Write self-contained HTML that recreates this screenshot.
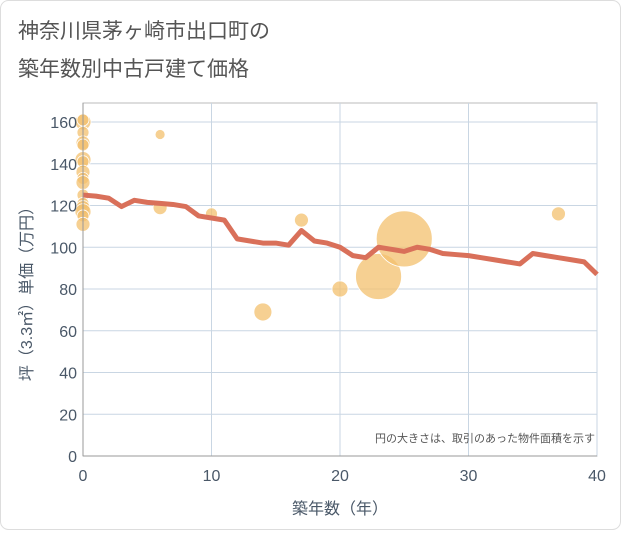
<!DOCTYPE html>
<html><head><meta charset="utf-8"><style>
body{margin:0;background:#fff;}
.t{font-family:"Liberation Sans","Noto Sans CJK JP",sans-serif;}
</style></head><body>
<svg width="621" height="530" xmlns="http://www.w3.org/2000/svg">
<rect x="0.5" y="0.5" width="620" height="529" rx="8" fill="#fff" stroke="#ddd"/>
<text class="t" x="18" y="38" font-size="21" fill="#555">神奈川県茅ヶ崎市出口町の</text>
<text class="t" x="18" y="76" font-size="21" fill="#555">築年数別中古戸建て価格</text>
<g id="grid"></g>
<g id="bubbles"></g>
<g id="line"></g>
<g id="axes"></g>
<text class="t" x="595" y="442" font-size="11" fill="#555" text-anchor="end">円の大きさは、取引のあった物件面積を示す</text>
<text class="t" x="340" y="514" font-size="16" fill="#4a5868" text-anchor="middle">築年数（年）</text>
<text class="t" x="32" y="290" font-size="16" fill="#4a5868" text-anchor="middle" transform="rotate(-90 32 290)">坪（3.3㎡）単価（万円）</text>
</svg>
<script>
const xTicks=[0,10,20,30,40];
const yTicks=[0,20,40,60,80,100,120,140,160];
const lineX=[0,1,2,3,4,5,6,7,8,9,10,11,12,13,14,15,16,17,18,19,20,21,22,23,24,25,26,27,28,29,30,31,32,33,34,35,36,37,38,39,40];
const lineY=[125,124.5,123.5,119.5,122.5,121.5,121,120.5,119.5,115,114,113,104,103,102,102,101,108,103,102,100,96,95,100,99,98,100,99,97,96.5,96,95,94,93,92,97,96,95,94,93,87];
const bubX=[0,0,0,0,0,0,0,0,0,0,0,0,0,0,0,0,6,6,10,14,17,20,23,25,37];
const bubY=[160,161,155,150,149,142,141,136,133,131,125,121,119,117,115,111,154,119,116,69,113,80,86,104,116];
const bubR=[8,6,6,7,6,8,6,7,6,7,6,6,7,8,6,7,5,7,6,9,7,8,23,28,7];
const X0=83,X1=597,Y0=456,Y1=122;
const sx=v=>X0+(v-0)/40*(X1-X0);
const sy=v=>Y0-(v/160)*(Y0-Y1);
const NS="http://www.w3.org/2000/svg";
function mk(p,tag,at){const e=document.createElementNS(NS,tag);for(const k in at)e.setAttribute(k,at[k]);p.appendChild(e);return e;}
const grid=document.getElementById('grid'),axes=document.getElementById('axes');
mk(grid,'rect',{x:X0,y:103,width:X1-X0,height:Y0-103,fill:'none',stroke:'#bbb'});
yTicks.forEach(v=>{const l=mk(grid,'line',{x1:X0,x2:X1,y1:sy(v),y2:sy(v),stroke:'#c9d6e3','stroke-width':1});


const t=mk(axes,'text',{x:X0-6,y:sy(v)+6,'font-size':16,fill:'#4a5868','text-anchor':'end','class':'t'});t.textContent=v;

});
xTicks.forEach(v=>{const l=mk(grid,'line',{x1:sx(v),x2:sx(v),y1:103,y2:Y0,stroke:'#c9d6e3','stroke-width':1});


const t=mk(axes,'text',{x:sx(v),y:Y0+25,'font-size':16,fill:'#4a5868','text-anchor':'middle','class':'t'});t.textContent=v;

});
mk(axes,'line',{x1:X0,x2:X0,y1:103,y2:Y0,stroke:'#999'});
mk(axes,'line',{x1:X0,x2:X1,y1:Y0,y2:Y0,stroke:'#999'});
const bub=document.getElementById('bubbles');
bubX.forEach((v,i)=>{const c=mk(bub,'circle',{cx:sx(v),cy:sy(bubY[i]),r:bubR[i],fill:'#f3c06e','fill-opacity':0.75,stroke:'#fff','stroke-width':0.8});

});
const pts=lineX.map((v,i)=>sx(v)+','+sy(lineY[i])).join(' ');
const pl=mk(document.getElementById('line'),'polyline',{points:pts,fill:'none',stroke:'#d9705a','stroke-width':5,'stroke-linejoin':'round'});


</script>
</body></html>
